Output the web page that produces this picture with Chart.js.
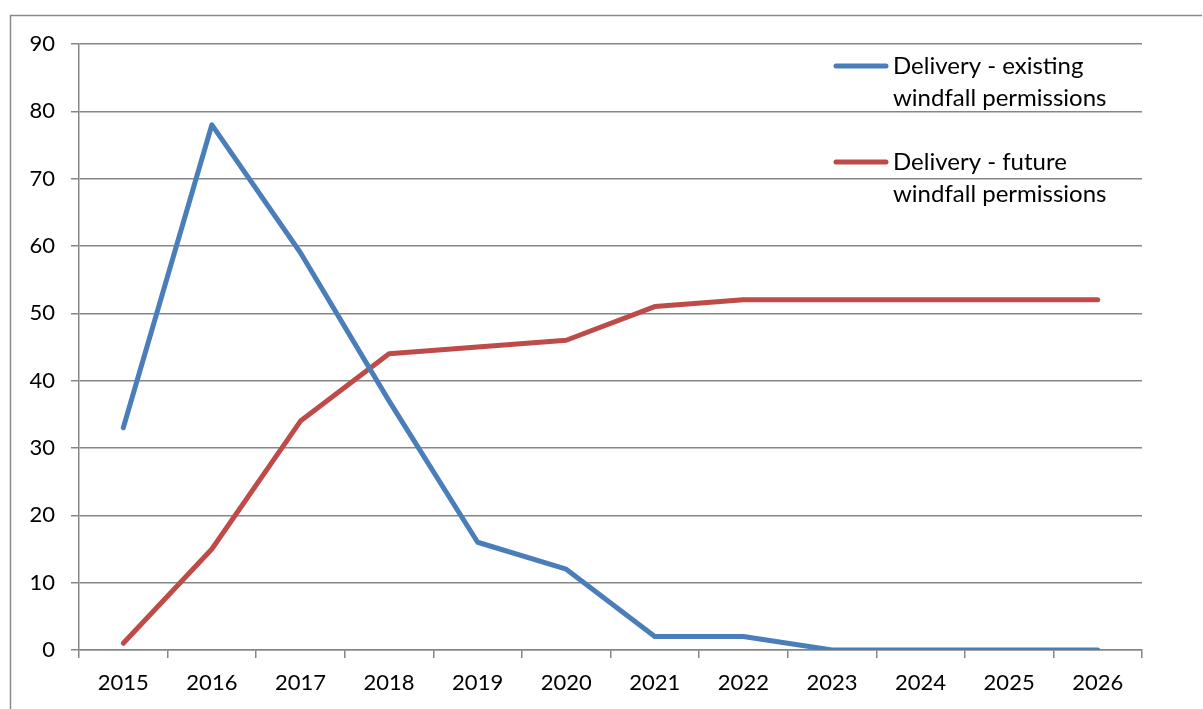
<!DOCTYPE html>
<html>
<head>
<meta charset="utf-8">
<script src="https://cdn.jsdelivr.net/npm/chart.js@4/dist/chart.umd.min.js"></script>
<style>
  html, body { margin: 0; padding: 0; background: #fff; }
  #wrap { position: relative; width: 1203px; height: 709px; }
  canvas { display: block; }
</style>
</head>
<body>
<div id="wrap"><canvas id="c" width="1203" height="709"></canvas></div>
<script>
const categories = ['2015','2016','2017','2018','2019','2020','2021','2022','2023','2024','2025','2026'];
const existingLabel = ['Delivery - existing', 'windfall permissions'];
const futureLabel = ['Delivery - future', 'windfall permissions'];
const existingValues = [33, 78, 59, 37, 16, 12, 2, 2, 0, 0, 0, 0];
const futureValues = [1, 15, 34, 44, 45, 46, 51, 52, 52, 52, 52, 52];
const yTicks = [0, 10, 20, 30, 40, 50, 60, 70, 80, 90];

const FONT = 'Lato, "Open Sans", sans-serif';
const axisColor = '#868686';

const framePlugin = {
  id: 'frame',
  beforeDraw(chart) {
    const ctx = chart.ctx;
    ctx.save();
    ctx.fillStyle = '#fff';
    ctx.fillRect(0, 0, chart.width, chart.height);
    ctx.strokeStyle = '#8a8a8a';
    ctx.lineWidth = 1.5;
    ctx.beginPath();
    ctx.moveTo(10.5, 709);
    ctx.lineTo(10.5, 15.5);
    ctx.lineTo(1202, 15.5);
    ctx.stroke();
    ctx.restore();
  }
};

const legendPlugin = {
  id: 'wrapLegend',
  afterDatasetsDraw(chart) {
    const ctx = chart.ctx;
    ctx.save();
    ctx.font = '24px ' + FONT;
    ctx.textBaseline = 'middle';
    ctx.textAlign = 'left';
    const items = [
      { y: 66, ds: chart.data.datasets[0] },
      { y: 162, ds: chart.data.datasets[1] }
    ];
    items.forEach(it => {
      ctx.strokeStyle = it.ds.borderColor;
      ctx.lineWidth = 5;
      ctx.lineCap = 'round';
      ctx.beginPath();
      ctx.moveTo(836, it.y);
      ctx.lineTo(886, it.y);
      ctx.stroke();
      ctx.fillStyle = '#000';
      it.ds.label.forEach((line, i) => {
        ctx.fillText(line, 893, it.y + i * 32);
      });
    });
    ctx.restore();
  }
};

new Chart(document.getElementById('c'), {
  type: 'line',
  data: {
    labels: categories,
    datasets: [
      {
        label: existingLabel,
        data: existingValues,
        borderColor: '#4a7ebb',
        backgroundColor: '#4a7ebb',
        borderWidth: 5,
        pointRadius: 0,
        tension: 0,
        borderCapStyle: 'round',
        borderJoinStyle: 'round'
      },
      {
        label: futureLabel,
        data: futureValues,
        borderColor: '#be4b48',
        backgroundColor: '#be4b48',
        borderWidth: 5,
        pointRadius: 0,
        tension: 0,
        borderCapStyle: 'round',
        borderJoinStyle: 'round'
      }
    ]
  },
  options: {
    responsive: false,
    animation: false,
    devicePixelRatio: 1,
    layout: { padding: { left: 10, top: 44, right: 61, bottom: 0 } },
    plugins: {
      legend: { display: false },
      tooltip: { enabled: false }
    },
    scales: {
      x: {
        offset: true,
        grid: {
          offset: true,
          drawOnChartArea: false,
          drawTicks: true,
          tickLength: 8,
          color: axisColor,
          lineWidth: 1.5
        },
        border: { display: true, color: axisColor, width: 1.5 },
        ticks: {
          color: '#000',
          font: { family: FONT, size: 22 },
          padding: 12,
          maxRotation: 0,
          autoSkip: false
        },
        afterFit(scale) { scale.height = 59; }
      },
      y: {
        min: 0,
        max: 90,
        afterBuildTicks(scale) { scale.ticks = yTicks.map(v => ({ value: v })); },
        grid: {
          color: axisColor,
          lineWidth: 1.5,
          drawTicks: true,
          tickLength: 8
        },
        border: { display: true, color: axisColor, width: 1.5 },
        ticks: {
          color: '#000',
          font: { family: FONT, size: 22 },
          padding: 16
        },
        afterFit(scale) { scale.width = 69; }
      }
    }
  },
  plugins: [framePlugin, legendPlugin]
});
</script>
</body>
</html>
